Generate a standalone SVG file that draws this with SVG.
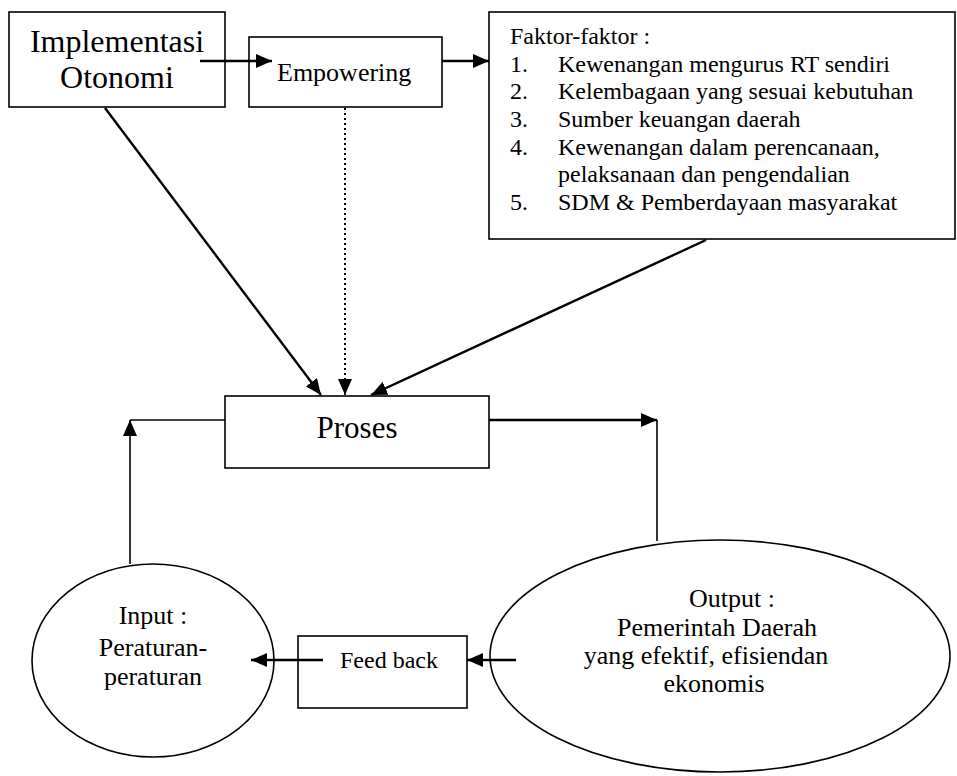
<svg xmlns="http://www.w3.org/2000/svg" width="957" height="776" viewBox="0 0 957 776">
<style>
  .box { fill: #fff; stroke: #000; stroke-width: 1.6; }
  text { font-family: 'Liberation Serif', 'Times New Roman', serif; fill: #000; }
  .conn { fill: none; stroke: #000; stroke-width: 2.4; }
  .thin { fill: none; stroke: #000; stroke-width: 1.6; }
  .dot { fill: none; stroke: #000; stroke-width: 2; stroke-dasharray: 2 3; }
</style>
<defs>
  <marker id="ah" viewBox="0 0 16 14" refX="16" refY="7" markerWidth="16" markerHeight="14" markerUnits="userSpaceOnUse" orient="auto">
    <path d="M0,0 L16,7 L0,14 z" fill="#000"/>
  </marker>
</defs>
<rect width="957" height="776" fill="#fff"/>

<g id="implementasi">
  <rect class="box" x="9" y="12" width="216" height="95"/>
  <text x="117" y="52" font-size="32" text-anchor="middle">Implementasi</text>
  <text x="117" y="88" font-size="32" text-anchor="middle">Otonomi</text>
</g>

<g id="empowering">
  <rect class="box" x="249" y="37" width="193" height="70"/>
  <text x="277" y="81" font-size="26">Empowering</text>
</g>

<g id="faktor" font-size="24">
  <rect class="box" x="489" y="12" width="466" height="227"/>
  <text x="510" y="44">Faktor-faktor :</text>
  <text x="510" y="72">1.</text><text x="558" y="72">Kewenangan mengurus RT sendiri</text>
  <text x="510" y="99">2.</text><text x="558" y="99">Kelembagaan yang sesuai kebutuhan</text>
  <text x="510" y="127">3.</text><text x="558" y="127">Sumber keuangan daerah</text>
  <text x="510" y="155">4.</text><text x="558" y="155">Kewenangan dalam perencanaan,</text>
  <text x="558" y="182">pelaksanaan dan pengendalian</text>
  <text x="510" y="210">5.</text><text x="558" y="210">SDM &amp; Pemberdayaan masyarakat</text>
</g>

<g id="proses">
  <rect class="box" x="225" y="396" width="264" height="72"/>
  <text x="357" y="438" font-size="31" text-anchor="middle">Proses</text>
</g>

<g id="input" font-size="26" text-anchor="middle">
  <ellipse class="box" cx="153" cy="660.5" rx="121" ry="96.5"/>
  <text x="153" y="624">Input :</text>
  <text x="153" y="656">Peraturan-</text>
  <text x="153" y="685">peraturan</text>
</g>

<g id="feedback">
  <rect class="box" x="298" y="636" width="169" height="72"/>
  <text x="340" y="668" font-size="24">Feed back</text>
</g>

<g id="output" font-size="26" text-anchor="middle">
  <ellipse class="box" cx="720" cy="656" rx="230" ry="116"/>
  <text x="732" y="607">Output :</text>
  <text x="717" y="636">Pemerintah Daerah</text>
  <text x="706" y="664">yang efektif, efisiendan</text>
  <text x="714" y="692">ekonomis</text>
</g>

<g id="connectors">
  <line class="conn" x1="200" y1="61" x2="272" y2="61" marker-end="url(#ah)"/>
  <line class="conn" x1="442" y1="61" x2="489" y2="61" marker-end="url(#ah)"/>
  <line class="conn" x1="105" y1="108" x2="321" y2="395" marker-end="url(#ah)"/>
  <line class="dot" x1="345" y1="108" x2="345" y2="381"/>
  <line class="thin" x1="345" y1="381" x2="345" y2="395" marker-end="url(#ah)"/>
  <line class="conn" x1="706" y1="240" x2="371" y2="395" marker-end="url(#ah)"/>
  <line class="conn" x1="489" y1="420" x2="657" y2="420" marker-end="url(#ah)"/>
  <line class="thin" x1="657" y1="420" x2="657" y2="541"/>
  <line class="thin" x1="130" y1="564" x2="130" y2="420" marker-end="url(#ah)"/>
  <line class="thin" x1="130" y1="420" x2="225" y2="420"/>
  <line class="conn" x1="516" y1="660" x2="467" y2="660" marker-end="url(#ah)"/>
  <line class="conn" x1="323" y1="660" x2="251" y2="660" marker-end="url(#ah)"/>
</g>
</svg>
